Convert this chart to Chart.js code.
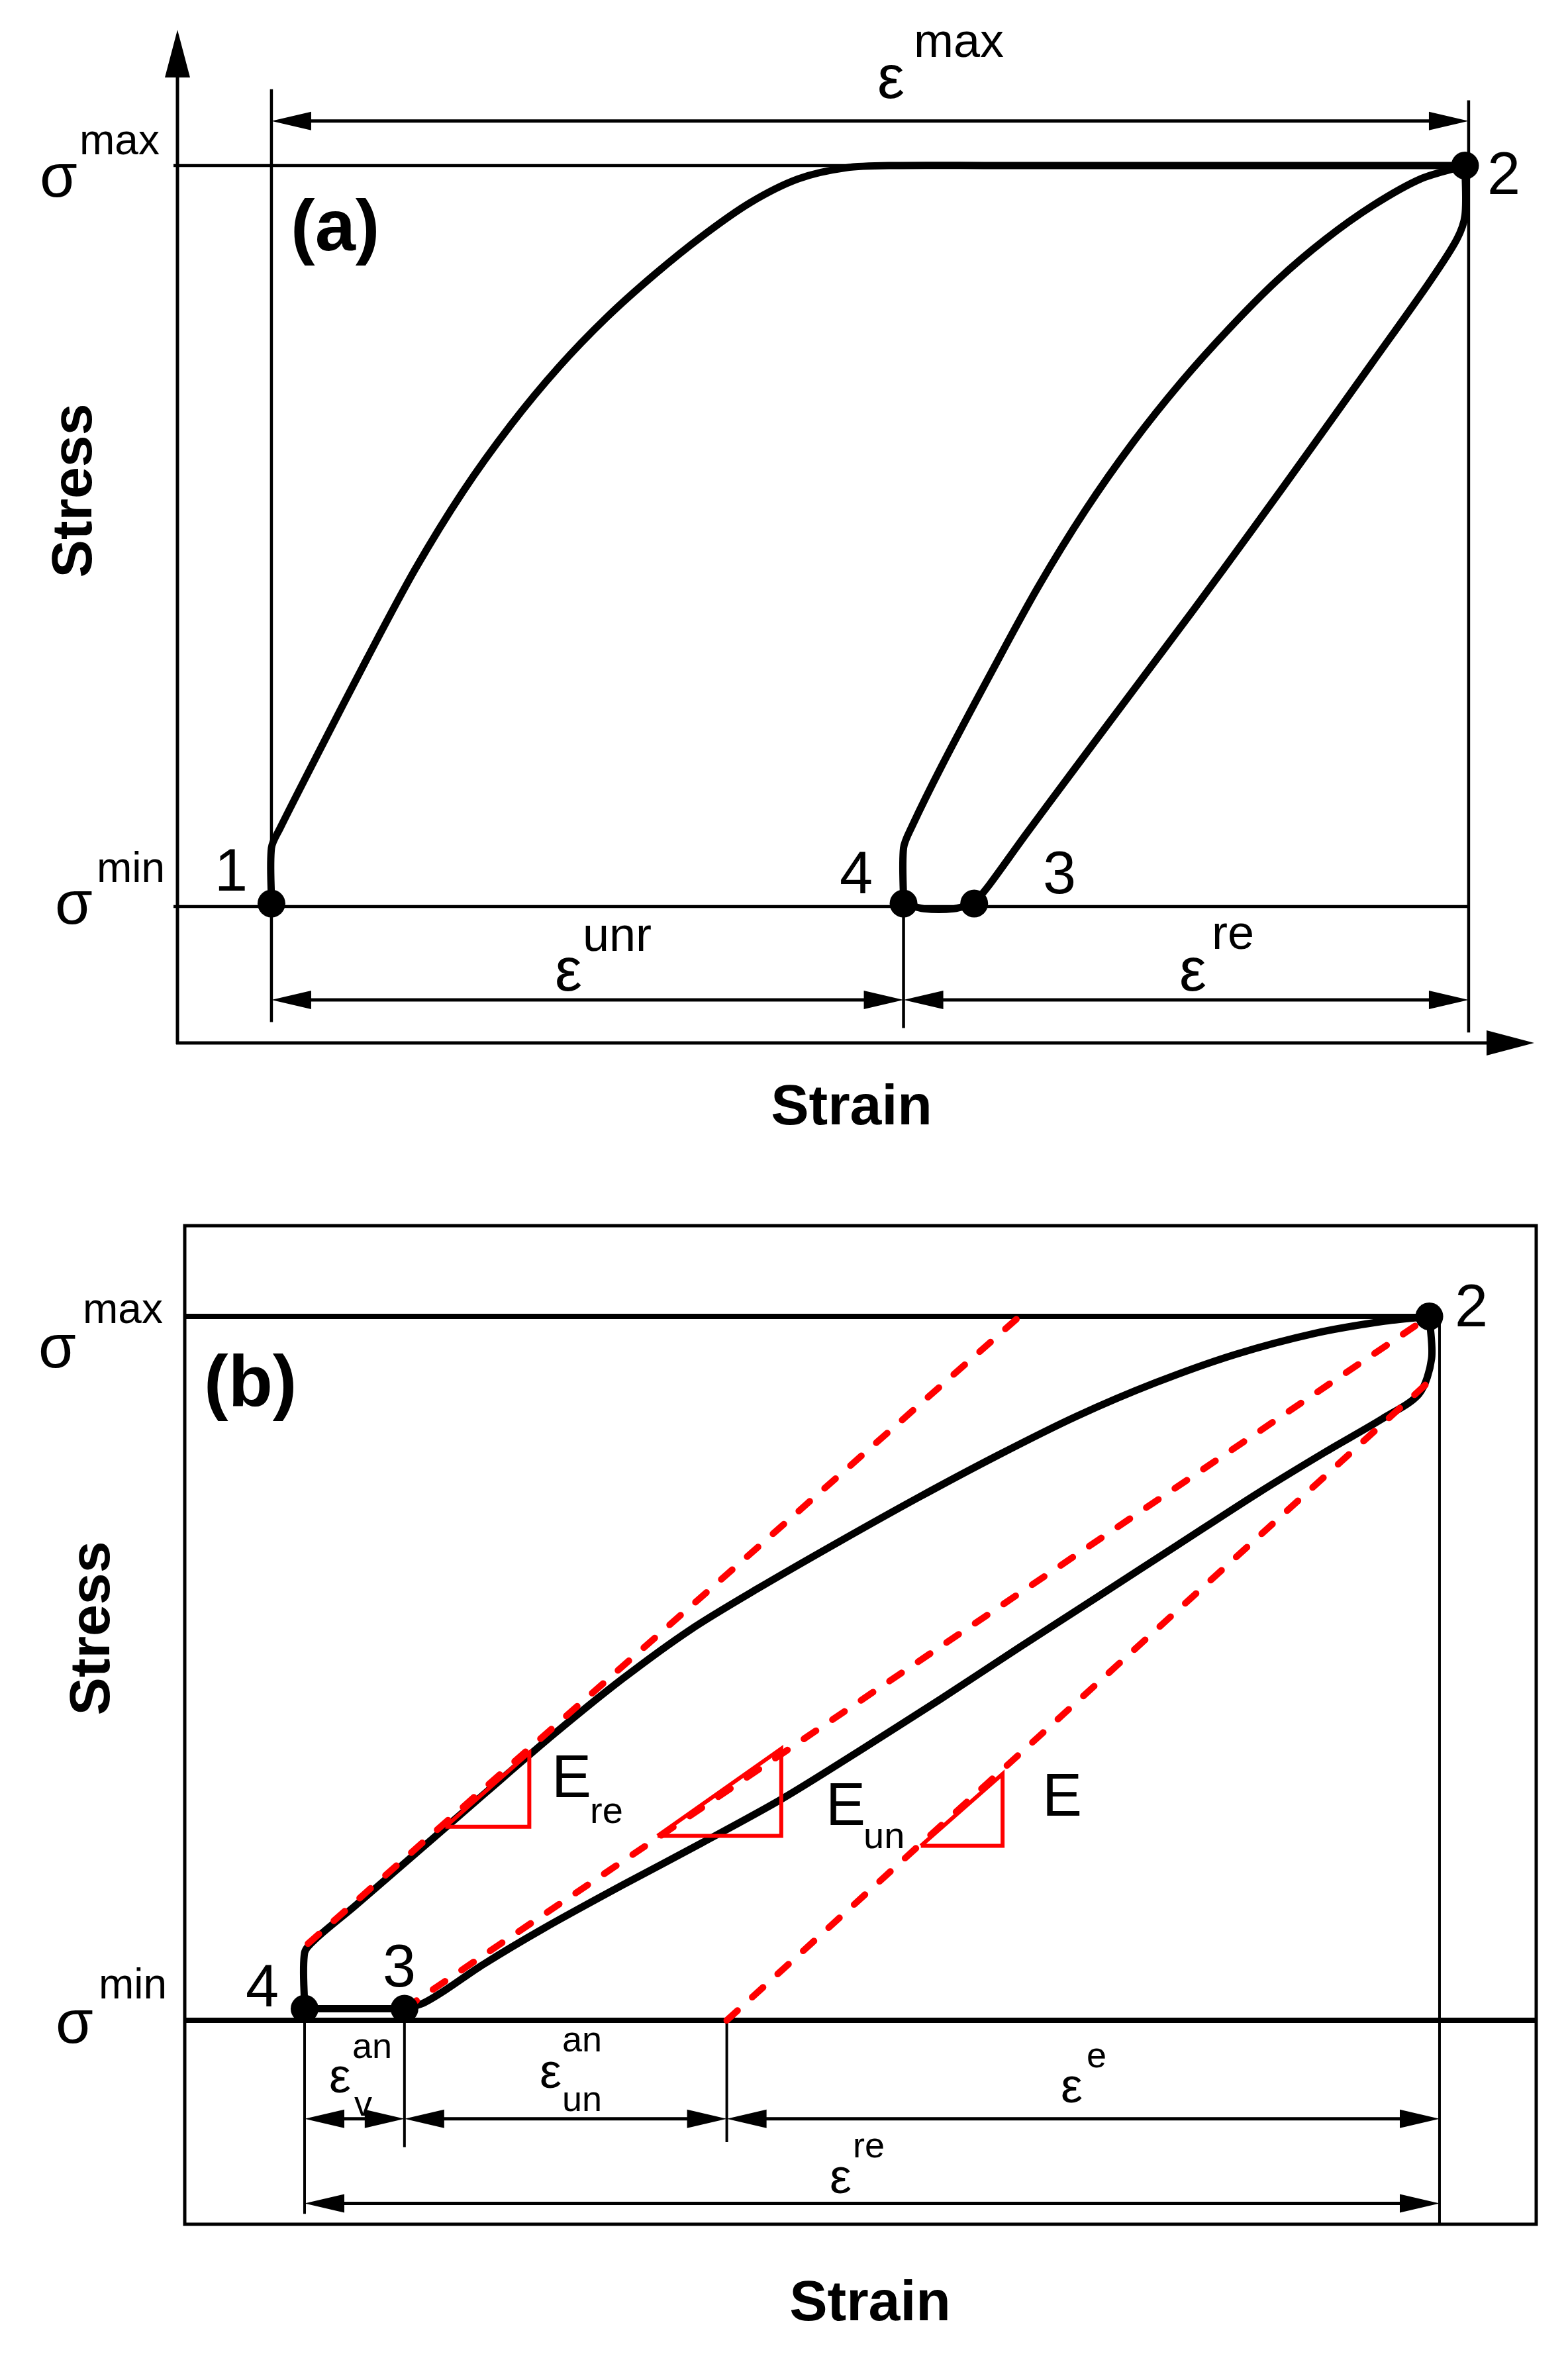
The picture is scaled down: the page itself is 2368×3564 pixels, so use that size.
<!DOCTYPE html>
<html>
<head>
<meta charset="utf-8">
<title>Stress-strain cycle</title>
<script src="https://cdn.jsdelivr.net/npm/chart.js@4.4.1/dist/chart.umd.min.js"></script>
<style>
    html, body { margin: 0; padding: 0; background: #fff; }
    #wrap { position: relative; width: 2368px; height: 3564px; }
    canvas { position: absolute; left: 0; }
    #chart-a { top: 0; }
    #chart-b { top: 1740px; }
</style>
</head>
<body>
<div id="wrap">
    <canvas id="chart-a" width="2368" height="1740"></canvas>
    <canvas id="chart-b" width="2368" height="1824"></canvas>
</div>
<script>
const $ = (id) => document.getElementById(id);

// strain: 0 at the start of the loop, 1 at eps max / point 2
// stress: 0 at sigma min, 1 at sigma max

// ---- (a) full cycle 1-2-3-4-2 ----
const aLoadStrain = [0, 0, 0.007, 0.040, 0.080, 0.120, 0.160, 0.200, 0.240, 0.280, 0.320, 0.360, 0.400, 0.440, 0.480, 0.520, 0.600, 0.997];
const aLoadStress = [0.004, 0.079, 0.105, 0.210, 0.335, 0.455, 0.560, 0.650, 0.728, 0.795, 0.853, 0.905, 0.950, 0.982, 0.997, 1.0, 1.0, 1.0];

const aUnloadStrain = [0.997, 0.997, 0.990, 0.967, 0.920, 0.870, 0.820, 0.770, 0.720, 0.670, 0.630, 0.600, 0.587];
const aUnloadStress = [1.0, 0.933, 0.900, 0.842, 0.735, 0.622, 0.510, 0.400, 0.292, 0.184, 0.097, 0.030, 0.004];

const aReloadStrain = [0.528, 0.528, 0.535, 0.560, 0.600, 0.640, 0.680, 0.720, 0.760, 0.800, 0.840, 0.880, 0.920, 0.960, 0.997];
const aReloadStress = [0.004, 0.079, 0.108, 0.190, 0.312, 0.430, 0.535, 0.627, 0.708, 0.780, 0.845, 0.900, 0.946, 0.982, 1.0];

const aRestStrain = [0.528, 0.545, 0.570, 0.587];
const aRestStress = [0.004, -0.003, -0.003, 0.004];

const aPointStrain = [0, 0.997, 0.587, 0.528];
const aPointStress = [0.004, 1.0, 0.004, 0.004];
const aPointLabels = ['1', '2', '3', '4'];

const aStrainMarks = [0, 0.528, 1];      // start, end of eps unr, eps max
const sigmaLevels = [0, 1];              // sigma min, sigma max

// ---- (b) recovery loop 4-2-3 with moduli ----
const bLoadStrain = [0, 0, 0.010, 0.044, 0.100, 0.160, 0.220, 0.280, 0.340, 0.400, 0.470, 0.540, 0.610, 0.680, 0.750, 0.820, 0.890, 0.950, 0.991];
const bLoadStress = [0.0165, 0.096, 0.116, 0.162, 0.240, 0.324, 0.407, 0.485, 0.555, 0.614, 0.679, 0.742, 0.802, 0.858, 0.906, 0.946, 0.976, 0.993, 1.0];

const bUnloadStrain = [0.991, 0.993, 0.982, 0.950, 0.900, 0.840, 0.770, 0.700, 0.630, 0.560, 0.490, 0.420, 0.350, 0.280, 0.210, 0.157, 0.124, 0.104, 0.088];
const bUnloadStress = [1.0, 0.940, 0.890, 0.855, 0.808, 0.749, 0.676, 0.603, 0.530, 0.456, 0.384, 0.314, 0.252, 0.192, 0.130, 0.079, 0.043, 0.024, 0.0165];

const bRestStrain = [0, 0.088];
const bRestStress = [0.0165, 0.0165];

const bPointStrain = [0.991, 0.088, 0];
const bPointStress = [1.0, 0.0165, 0.0165];
const bPointLabels = ['2', '3', '4'];

const eReStrain = [0.003, 0.630];
const eReStress = [0.109, 1.0];
const eUnStrain = [0.088, 0.991];
const eUnStress = [0.0165, 1.0];
const eStrain = [0.372, 1.0];
const eStress = [0, 0.921];

const triReStrain = [0.124, 0.198, 0.198, 0.124];
const triReStress = [0.275, 0.380, 0.275, 0.275];
const triUnStrain = [0.311, 0.420, 0.420, 0.311];
const triUnStress = [0.262, 0.386, 0.262, 0.262];
const triEStrain = [0.543, 0.615, 0.615, 0.543];
const triEStress = [0.248, 0.350, 0.248, 0.248];

const bStrainMarks = [0, 0.088, 0.372, 1];   // point 4, point 3, E intercept, eps max

const INK = '#000';
const RED = '#ff0000';
const FAMILY = "'Liberation Sans', Arial, sans-serif";

const pts = (xs, ys) => xs.map((x, i) => ({ x, y: ys[i] }));

const curve = (xs, ys) => ({
    data: pts(xs, ys), borderColor: INK, borderWidth: 11, tension: 0.3,
    borderCapStyle: 'round', borderJoinStyle: 'round', pointRadius: 0, order: 3, clip: false
});
const dashed = (xs, ys) => ({
    data: pts(xs, ys), borderColor: RED, borderWidth: 10, borderDash: [22, 30],
    borderCapStyle: 'round', tension: 0, pointRadius: 0, order: 2, clip: false
});
const tri = (xs, ys) => ({
    data: pts(xs, ys), borderColor: RED, borderWidth: 6, tension: 0,
    borderJoinStyle: 'miter', pointRadius: 0, order: 1, clip: false
});
const dots = (xs, ys) => ({
    data: pts(xs, ys), showLine: false, pointRadius: 21, pointHoverRadius: 21,
    pointBackgroundColor: INK, pointBorderWidth: 0, order: 0, clip: false
});

const X = (c, v) => c.scales.x.getPixelForValue(v);
const Y = (c, v) => c.scales.y.getPixelForValue(v);

function seg(ctx, x1, y1, x2, y2, w) {
    ctx.lineWidth = w;
    ctx.beginPath();
    ctx.moveTo(x1, y1);
    ctx.lineTo(x2, y2);
    ctx.stroke();
}

function head(ctx, x, y, dx, dy, len, half) {
    ctx.beginPath();
    ctx.moveTo(x, y);
    ctx.lineTo(x - dx * len - dy * half, y - dy * len + dx * half);
    ctx.lineTo(x - dx * len + dy * half, y - dy * len - dx * half);
    ctx.closePath();
    ctx.fill();
}

// double headed dimension arrow between two strains at a stress level
function dim(c, x1, x2, y) {
    const ctx = c.ctx, a = X(c, x1), b = X(c, x2), yy = Y(c, y);
    seg(ctx, a + 20, yy, b - 20, yy, 5);
    head(ctx, a, yy, -1, 0, 60, 14);
    head(ctx, b, yy, 1, 0, 60, 14);
}

function vline(c, x, y1, y2, w) {
    seg(c.ctx, X(c, x), Y(c, y1), X(c, x), Y(c, y2), w);
}

function text(ctx, str, x, y, size, bold, align) {
    ctx.font = `${bold ? 'bold ' : ''}${size}px ${FAMILY}`;
    ctx.textAlign = align || 'left';
    ctx.textBaseline = 'alphabetic';
    ctx.fillText(str, x, y);
}

function vtext(ctx, str, cx, cy, size) {
    ctx.save();
    ctx.translate(cx, cy);
    ctx.rotate(-Math.PI / 2);
    ctx.font = `bold ${size}px ${FAMILY}`;
    ctx.textAlign = 'center';
    ctx.textBaseline = 'middle';
    ctx.fillText(str, 0, 0);
    ctx.restore();
}

const overlay = (under, over) => ({
    id: 'overlay',
    beforeDatasetsDraw(chart) {
        const ctx = chart.ctx;
        ctx.save();
        ctx.strokeStyle = INK;
        ctx.fillStyle = INK;
        ctx.lineCap = 'butt';
        under(chart, ctx, chart.chartArea);
        ctx.restore();
    },
    afterDraw(chart) {
        const ctx = chart.ctx;
        ctx.save();
        ctx.fillStyle = INK;
        over(chart, ctx, chart.chartArea);
        ctx.restore();
    }
});

function underA(c, ctx, ca) {
    // axes with arrows
    seg(ctx, ca.left, ca.bottom + 2, ca.left, ca.top + 60, 5);
    head(ctx, ca.left, ca.top, 0, -1, 72, 19);
    seg(ctx, ca.left - 2, ca.bottom, ca.right - 60, ca.bottom, 5);
    head(ctx, ca.right, ca.bottom, 1, 0, 72, 19);

    sigmaLevels.forEach(s => seg(ctx, ca.left - 6, Y(c, s), X(c, aStrainMarks[2]), Y(c, s), 4.5));

    vline(c, aStrainMarks[0], 1.103, -0.156, 4.5);
    vline(c, aStrainMarks[2], 1.088, -0.170, 4.5);
    vline(c, aStrainMarks[1], 0, -0.164, 4.5);

    dim(c, aStrainMarks[0], aStrainMarks[2], 1.06);
    dim(c, aStrainMarks[0], aStrainMarks[1], -0.126);
    dim(c, aStrainMarks[1], aStrainMarks[2], -0.126);
}

function overA(c, ctx) {
    text(ctx, 'σ', 60, 297, 92);
    text(ctx, 'max', 120, 233, 64);
    text(ctx, 'σ', 83, 1395, 92);
    text(ctx, 'min', 146, 1332, 64);

    text(ctx, aPointLabels[0], 349, 1345, 90, false, 'center');
    text(ctx, aPointLabels[1], 2271, 293, 90, false, 'center');
    text(ctx, aPointLabels[2], 1600, 1349, 90, false, 'center');
    text(ctx, aPointLabels[3], 1293, 1349, 90, false, 'center');

    text(ctx, '(a)', 439, 378, 110, true);

    text(ctx, 'ε', 1325, 148, 92);
    text(ctx, 'max', 1380, 86, 72);
    text(ctx, 'ε', 838, 1496, 92);
    text(ctx, 'unr', 880, 1436, 72);
    text(ctx, 'ε', 1781, 1496, 92);
    text(ctx, 're', 1830, 1433, 72);

    vtext(ctx, 'Stress', 114, 741, 86);
    text(ctx, 'Strain', 1286, 1698, 86, true, 'center');
}

function underB(c, ctx, ca) {
    ctx.lineWidth = 5;
    ctx.strokeRect(ca.left, ca.top, ca.right - ca.left, ca.bottom - ca.top);

    seg(ctx, ca.left, Y(c, sigmaLevels[1]), X(c, bPointStrain[0]), Y(c, sigmaLevels[1]), 8);
    seg(ctx, ca.left, Y(c, sigmaLevels[0]), ca.right, Y(c, sigmaLevels[0]), 8);

    seg(ctx, X(c, bStrainMarks[3]), Y(c, 1), X(c, bStrainMarks[3]), ca.bottom, 4);
    vline(c, bStrainMarks[0], 0, -0.275, 4);
    vline(c, bStrainMarks[1], 0, -0.180, 4);
    vline(c, bStrainMarks[2], 0, -0.173, 4);

    dim(c, bStrainMarks[0], bStrainMarks[1], -0.140);
    dim(c, bStrainMarks[1], bStrainMarks[2], -0.140);
    dim(c, bStrainMarks[2], bStrainMarks[3], -0.140);
    dim(c, bStrainMarks[0], bStrainMarks[3], -0.260);
}

function overB(c, ctx) {
    const o = 1740; // page offset of this canvas
    text(ctx, 'σ', 58, 2065 - o, 92);
    text(ctx, 'max', 125, 1998 - o, 64);
    text(ctx, 'σ', 84, 3085 - o, 92);
    text(ctx, 'min', 149, 3018 - o, 64);

    text(ctx, '(b)', 308, 2123 - o, 110, true);

    text(ctx, bPointLabels[0], 2197, 2003 - o, 90);
    text(ctx, bPointLabels[1], 578, 3000 - o, 90);
    text(ctx, bPointLabels[2], 371, 3030 - o, 90);

    text(ctx, 'ε', 497, 3160 - o, 74);
    text(ctx, 'an', 532, 3108 - o, 54);
    text(ctx, 'v', 535, 3195 - o, 54);
    text(ctx, 'ε', 815, 3153 - o, 74);
    text(ctx, 'an', 849, 3098 - o, 54);
    text(ctx, 'un', 849, 3188 - o, 54);
    text(ctx, 'ε', 1602, 3175 - o, 74);
    text(ctx, 'e', 1641, 3122 - o, 54);
    text(ctx, 'ε', 1253, 3312 - o, 74);
    text(ctx, 're', 1288, 3258 - o, 54);

    text(ctx, 'E', 833, 2714 - o, 90);
    text(ctx, 're', 891, 2753 - o, 56);
    text(ctx, 'E', 1247, 2756 - o, 90);
    text(ctx, 'un', 1304, 2791 - o, 56);
    text(ctx, 'E', 1574, 2742 - o, 90);

    vtext(ctx, 'Stress', 141, 2459 - o, 86);
    text(ctx, 'Strain', 1314, 3504 - o, 86, true, 'center');
}

const baseOptions = (pad, xr, yr) => ({
    responsive: false,
    animation: false,
    devicePixelRatio: 1,
    events: [],
    layout: { padding: pad },
    plugins: { legend: { display: false }, tooltip: { enabled: false } },
    scales: {
        x: { type: 'linear', min: xr[0], max: xr[1], display: false },
        y: { type: 'linear', min: yr[0], max: yr[1], display: false }
    }
});

new Chart($('chart-a'), {
    type: 'line',
    data: {
        datasets: [
            curve(aLoadStrain, aLoadStress),
            curve(aUnloadStrain, aUnloadStress),
            curve(aReloadStrain, aReloadStress),
            curve(aRestStrain, aRestStress),
            dots(aPointStrain, aPointStress)
        ]
    },
    options: baseOptions({ left: 268, right: 51, top: 45, bottom: 165 }, [-0.0785, 1.0548], [-0.1841, 1.1832]),
    plugins: [overlay(underA, overA)]
});

new Chart($('chart-b'), {
    type: 'line',
    data: {
        datasets: [
            curve(bLoadStrain, bLoadStress),
            curve(bUnloadStrain, bUnloadStress),
            curve(bRestStrain, bRestStress),
            dashed(eReStrain, eReStress),
            dashed(eUnStrain, eUnStress),
            dashed(eStrain, eStress),
            tri(triReStrain, triReStress),
            tri(triUnStrain, triUnStress),
            tri(triEStrain, triEStress),
            dots(bPointStrain, bPointStress)
        ]
    },
    options: baseOptions({ left: 279, right: 48, top: 111, bottom: 205 }, [-0.1056, 1.0852], [-0.2897, 1.1289]),
    plugins: [overlay(underB, overB)]
});
</script>
</body>
</html>
